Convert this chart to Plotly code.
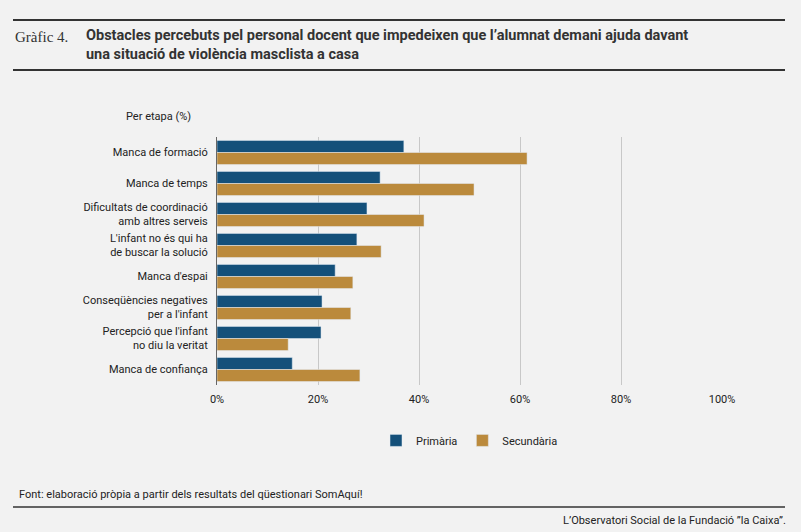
import plotly.graph_objects as go

categories = ["Manca de formació", "Manca de temps", "Dificultats de coordinació<br>amb altres serveis",
              "L'infant no és qui ha<br>de buscar la solució", "Manca d'espai",
              "Conseqüències negatives<br>per a l'infant", "Percepció que l'infant<br>no diu la veritat",
              "Manca de confiança"]
primaria = [37.0, 32.3, 29.7, 27.7, 23.4, 20.8, 20.6, 14.9]
secundaria = [61.4, 50.9, 41.0, 32.5, 26.9, 26.5, 14.1, 28.3]

W, H = 801, 532
fig = go.Figure()
fig.add_trace(go.Bar(y=categories, x=primaria, name="Primària", orientation="h", marker_color="#14507a"))
fig.add_trace(go.Bar(y=categories, x=secundaria, name="Secundària", orientation="h", marker_color="#bb8a3c"))

fig.update_layout(
    width=W, height=H, paper_bgcolor="#f2f2f2", plot_bgcolor="#f2f2f2",
    font=dict(family="Roboto", size=11, color="#222"),
    barmode="group", bargap=0.22, bargroupgap=0,
    margin=dict(l=217, r=W-722, t=137, b=H-385),
    xaxis=dict(range=[0, 100], dtick=20, ticksuffix="%", showgrid=True, gridcolor="#c8c8c8",
               zeroline=False, ticks="", ticklabelstandoff=6, fixedrange=True),
    yaxis=dict(autorange="reversed", showline=True, linecolor="#666", linewidth=1,
               ticks="", ticklabelstandoff=6),
    legend=dict(orientation="h", x=0.5, xanchor="center", y=-0.165, yanchor="top",
                font=dict(size=11), itemwidth=30, bgcolor="rgba(0,0,0,0)"),
    showlegend=True,
)
def py(y): return (H-y-(H-385))/248
def px(x): return (x-217)/505
for yy in [20, 70, 507]:
    fig.add_shape(type="line", xref="paper", yref="paper", x0=px(13), x1=px(785),
                  y0=py(yy), y1=py(yy), line=dict(color="#333", width=2 if yy != 507 else 1.5))
fig.add_annotation(xref="paper", yref="paper", x=px(13), y=py(37), xanchor="left", yanchor="middle",
                   text="Gràfic 4.", showarrow=False, font=dict(family="Liberation Serif", size=15, color="#333"))
fig.add_annotation(xref="paper", yref="paper", x=px(84), y=py(45), xanchor="left", yanchor="middle",
                   text="<b>Obstacles percebuts pel personal docent que impedeixen que l’alumnat demani ajuda davant<br>una situació de violència masclista a casa</b>",
                   showarrow=False, align="left", font=dict(family="Roboto", size=14.5, color="#333"))
fig.add_annotation(xref="paper", yref="paper", x=px(124), y=py(116), xanchor="left", yanchor="middle",
                   text="Per etapa (%)", showarrow=False, font=dict(size=11))
fig.add_annotation(xref="paper", yref="paper", x=px(17), y=py(494), xanchor="left", yanchor="middle",
                   text="Font: elaboració pròpia a partir dels resultats del qüestionari SomAquí!", showarrow=False, font=dict(size=11))
fig.add_annotation(xref="paper", yref="paper", x=px(788), y=py(520), xanchor="right", yanchor="middle",
                   text="L’Observatori Social de la Fundació ”la Caixa”.", showarrow=False, font=dict(size=11))
fig.write_html("out.html", config={"displayModeBar": False},
               post_script="document.body.style.margin='0';document.body.style.overflow='hidden';")
